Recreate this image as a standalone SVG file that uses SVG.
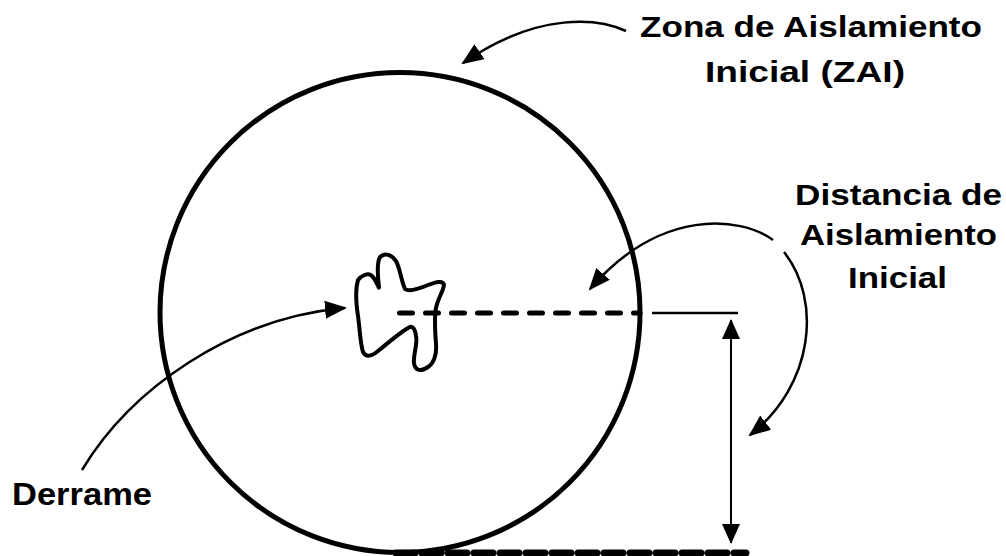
<svg xmlns="http://www.w3.org/2000/svg" width="1006" height="556" viewBox="0 0 1006 556">
<style>
.lbl{font-family:"Liberation Sans",Arial,sans-serif;font-weight:bold;font-size:30px;fill:#000}
.big{font-size:32px}
.arc{fill:none;stroke:#000;stroke-width:2.5}
</style>
<defs>
<marker id="ah" markerUnits="userSpaceOnUse" markerWidth="24" markerHeight="20" refX="20" refY="9" orient="auto">
<path d="M0,0 L22,9 L0,18 z" fill="#000"/>
</marker>
<marker id="ahs" markerUnits="userSpaceOnUse" markerWidth="22" markerHeight="20" refX="19" refY="9" orient="auto-start-reverse">
<path d="M0,0 L20,9 L0,18 z" fill="#000"/>
</marker>
</defs>
<rect width="1006" height="556" fill="#fff"/>
<g id="zone">
<circle cx="400" cy="312.5" r="240" fill="none" stroke="#000" stroke-width="5"/>
</g>
<g id="spill">
<path d="M358,280 C361,276 368,272 372,276 C377,281 379,290 379,287 C378,278 376,264 380,257 C385,252 392,255 396,261 C400,268 401,280 405,289 C409,292 418,289 428,285 C436,282 443,280 444,285 C443,292 438,298 436,308 C434,318 435,330 436,344 C437,356 433,364 428,367 C421,372 415,371 414,363 C413,354 418,344 416,336 C415,328 412,325 408,328 C398,334 388,343 378,351 C372,356 366,358 363,352 C360,342 360,330 358,316 C356,303 355,290 358,280 Z" fill="none" stroke="#000" stroke-width="4" stroke-linejoin="round"/>
</g>
<g id="distance">
<line x1="399.5" y1="313" x2="640" y2="313" stroke="#000" stroke-width="5" stroke-dasharray="13 13" stroke-linecap="round"/>
<line x1="652" y1="313" x2="738" y2="313" stroke="#000" stroke-width="2.5"/>
<line x1="396" y1="553" x2="746" y2="553" stroke="#000" stroke-width="7" stroke-dasharray="19 7" stroke-linecap="round"/>
<line x1="731" y1="320" x2="731" y2="543" stroke="#000" stroke-width="2" marker-start="url(#ahs)" marker-end="url(#ahs)"/>
</g>
<g id="connectors">
<path class="arc" d="M626,31 C600,19 540,10 463,63" marker-end="url(#ah)"/>
<path class="arc" d="M82,470 C130,390 230,318 345,308" marker-end="url(#ah)"/>
<path class="arc" d="M773,240 C740,216 660,208 590,289" marker-end="url(#ah)"/>
<path class="arc" d="M784,252 C822,300 814,385 750,435" marker-end="url(#ah)"/>
</g>
<g id="label-zai">
<text class="lbl" x="640" y="37" textLength="342" lengthAdjust="spacingAndGlyphs">Zona de Aislamiento</text>
<text class="lbl" x="705" y="82" textLength="200" lengthAdjust="spacingAndGlyphs">Inicial (ZAI)</text>
</g>
<g id="label-distancia">
<text class="lbl" x="795" y="205" textLength="207" lengthAdjust="spacingAndGlyphs">Distancia de</text>
<text class="lbl" x="800" y="245" textLength="197" lengthAdjust="spacingAndGlyphs">Aislamiento</text>
<text class="lbl" x="848" y="288" textLength="99" lengthAdjust="spacingAndGlyphs">Inicial</text>
</g>
<g id="label-derrame">
<text class="lbl big" x="12" y="505" textLength="140" lengthAdjust="spacingAndGlyphs">Derrame</text>
</g>
</svg>
